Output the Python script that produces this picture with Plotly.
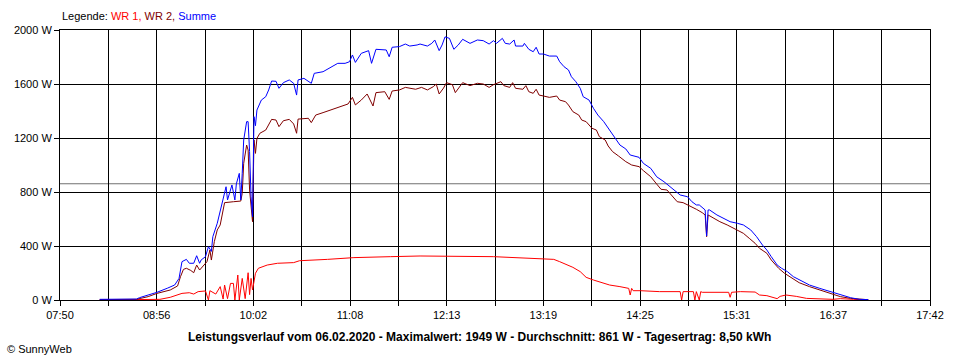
import plotly.graph_objects as go

# ---------------- data ----------------
x_tick_labels = ["07:50", "", "08:56", "", "10:02", "", "11:08", "", "12:13", "",
                 "13:19", "", "14:25", "", "15:31", "", "16:37", "", "17:42"]
y_tick_values = [0, 400, 800, 1200, 1600, 2000]
y_tick_labels = ["0 W", "400 W", "800 W", "1200 W", "1600 W", "2000 W"]

avg_w = 861

summe_time = ["08:17","08:42","08:44","08:50","08:56","09:03","09:08","09:11","09:13","09:16",
              "09:18","09:21","09:23","09:25","09:26","09:29","09:31","09:33","09:34","09:37",
              "09:39","09:41","09:43","09:44","09:47","09:49","09:50","09:52","09:53","09:54",
              "09:55","09:57","09:58","09:59","10:00","10:01","10:02","10:03","10:04","10:07",
              "10:10","10:12","10:14","10:17","10:19","10:22","10:26","10:29","10:31","10:32",
              "10:36","10:41","10:43","10:49","10:54","10:59","11:04","11:07","11:09","11:11",
              "11:15","11:20","11:22","11:25","11:32","11:34","11:36","11:41","11:45","11:48",
              "11:53","11:55","12:00","12:03","12:05","12:08","12:10","12:12","12:15","12:18",
              "12:21","12:24","12:29","12:34","12:38","12:42","12:45","12:47","12:51","12:53",
              "12:56","12:59","13:00","13:05","13:06","13:09","13:12","13:14","13:16","13:19",
              "13:23","13:28","13:30","13:33","13:36","13:38","13:41","13:44","13:46","13:50",
              "13:53","13:56","14:00","14:03","14:07","14:11","14:15","14:18","14:24","14:27",
              "14:32","14:36","14:41","14:45","14:50","14:52","14:57","15:00","15:03","15:05",
              "15:09","15:10","15:11","15:12","15:17","15:21","15:26","15:31","15:35","15:40",
              "15:44","15:48","15:51","15:54","15:58","16:01","16:05","16:09","16:14","16:20",
              "16:27","16:34","16:41","16:48","16:54","17:00"]
summe_w = [5, 7, 17, 37, 57, 87, 111, 160, 284, 301,
           272, 272, 328, 272, 296, 321, 395, 360, 469, 568,
           654, 741, 839, 741, 852, 741, 860, 938, 741, 938,
           1185, 1321, 1321, 1100, 765, 617, 1358, 1291, 1407, 1481,
           1506, 1556, 1622, 1620, 1568, 1610, 1630, 1605, 1518, 1630,
           1642, 1605, 1679, 1691, 1723, 1753, 1753, 1765, 1815, 1760,
           1827, 1847, 1753, 1857, 1852, 1802, 1872, 1877, 1896, 1881,
           1889, 1896, 1881, 1901, 1926, 1847, 1889, 1949, 1938, 1857,
           1889, 1931, 1901, 1926, 1921, 1896, 1921, 1901, 1938, 1901,
           1896, 1926, 1881, 1881, 1901, 1857, 1839, 1872, 1822, 1822,
           1807, 1807, 1765, 1728, 1704, 1654, 1617, 1568, 1506, 1481,
           1420, 1370, 1321, 1272, 1205, 1148, 1119, 1074, 1057, 1012,
           975, 913, 876, 839, 790, 778, 765, 728, 704, 704,
           667, 474, 667, 667, 630, 605, 580, 568, 556, 519,
           469, 407, 370, 321, 259, 235, 210, 173, 143, 111,
           86, 62, 37, 17, 5, 3]

wr2_time = ["08:17","08:42","08:50","08:56","09:05","09:10","09:12","09:14","09:16","09:19",
            "09:21","09:23","09:25","09:28","09:30","09:32","09:33","09:35","09:37","09:39",
            "09:41","09:42","09:48","09:53","09:54","09:55","09:57","09:58","09:59","10:01",
            "10:02","10:03","10:04","10:06","10:10","10:12","10:14","10:17","10:19","10:22",
            "10:26","10:29","10:31","10:32","10:36","10:39","10:41","10:44","10:49","10:55",
            "11:01","11:06","11:09","11:11","11:15","11:19","11:23","11:25","11:31","11:34",
            "11:36","11:41","11:45","11:52","11:56","12:00","12:04","12:06","12:08","12:11",
            "12:13","12:17","12:19","12:22","12:24","12:29","12:34","12:38","12:42","12:45",
            "12:50","12:52","12:56","12:58","13:00","13:05","13:07","13:09","13:12","13:14",
            "13:16","13:19","13:23","13:28","13:30","13:34","13:36","13:39","13:43","13:45",
            "13:48","13:52","13:55","13:57","14:01","14:03","14:06","14:10","14:15","14:19",
            "14:24","14:27","14:32","14:36","14:39","14:43","14:47","14:50","14:54","14:59",
            "15:03","15:07","15:09","15:10","15:11","15:15","15:19","15:24","15:30","15:35",
            "15:39","15:43","15:46","15:51","15:54","15:59","16:03","16:08","16:13","16:20",
            "16:27","16:34","16:41","16:48","16:54","17:00"]
wr2_w = [3, 5, 25, 49, 74, 104, 173, 227, 235, 219,
         202, 259, 222, 259, 284, 370, 296, 432, 519, 556,
         667, 721, 728, 733, 790, 1012, 1148, 1111, 815, 580,
         1185, 1086, 1197, 1235, 1259, 1296, 1338, 1333, 1284, 1328,
         1338, 1304, 1235, 1340, 1346, 1346, 1314, 1370, 1388, 1412,
         1437, 1452, 1501, 1445, 1481, 1526, 1437, 1536, 1543, 1486,
         1548, 1556, 1575, 1561, 1575, 1556, 1580, 1600, 1526, 1570,
         1610, 1595, 1536, 1580, 1610, 1588, 1605, 1600, 1575, 1595,
         1617, 1588, 1575, 1610, 1568, 1561, 1588, 1543, 1531, 1561,
         1518, 1511, 1501, 1511, 1481, 1469, 1444, 1395, 1370, 1333,
         1321, 1272, 1259, 1210, 1185, 1141, 1099, 1067, 1025, 1000,
         988, 958, 913, 859, 820, 815, 765, 728, 721, 696,
         672, 647, 630, 469, 630, 605, 580, 556, 519, 494,
         457, 420, 383, 346, 296, 235, 198, 160, 128, 99,
         74, 49, 25, 12, 5, 2]

wr1_time = ["08:17","08:40","08:58","09:05","09:13","09:18","09:21","09:24","09:29","09:31",
            "09:32","09:36","09:39","09:41","09:42","09:44","09:46","09:48","09:49","09:51",
            "09:52","09:54","09:56","09:58","09:59","10:00","10:01","10:03","10:05","10:11",
            "10:18","10:29","10:33","10:52","11:10","11:35","11:55","12:45","13:08","13:18",
            "13:26","13:30","13:35","13:39","13:44","13:48","13:53","13:59","14:04","14:11",
            "14:17","14:18","14:19","14:20","14:25","14:38","14:52","14:53","14:54","15:01",
            "15:02","15:03","15:05","15:06","15:07","15:25","15:26","15:27","15:33","15:43",
            "15:46","15:51","15:58","16:00","16:04","16:11","16:18","16:36","16:41","16:50",
            "17:00"]
wr1_w = [0, 3, 5, 20, 49, 54, 44, 62, 67, 0,
         69, 44, 99, 7, 111, 10, 123, 123, 0, 185,
         0, 160, 10, 202, 40, 160, 74, 198, 235, 259,
         272, 277, 291, 301, 314, 321, 326, 321, 309, 301,
         301, 284, 259, 242, 210, 168, 148, 128, 111, 99,
         86, 37, 86, 69, 69, 62, 62, 0, 62, 62,
         0, 62, 0, 62, 57, 57, 20, 57, 62, 59,
         37, 32, 10, 27, 37, 27, 12, 5, 10, 5,
         0]

title_text = ("Leistungsverlauf vom 06.02.2020 - Maximalwert: 1949 W - "
              "Durchschnitt: 861 W - Tagesertrag: 8,50 kWh")


def to_min(s):
    h, m = s.split(":")
    return int(h) * 60 + int(m)


x_start = to_min(x_tick_labels[0])
x_end = to_min(x_tick_labels[-1])
n_ticks = len(x_tick_labels)
x_tick_vals = [x_start + i * (x_end - x_start) / (n_ticks - 1) for i in range(n_ticks)]

FONT = "Liberation Sans, Arial, sans-serif"

fig = go.Figure()
for name, tt, vv, col in [("WR 1", wr1_time, wr1_w, "#FF0000"),
                          ("WR 2", wr2_time, wr2_w, "#800000"),
                          ("Summe", summe_time, summe_w, "#0000FF")]:
    fig.add_trace(go.Scatter(x=[to_min(t) for t in tt], y=vv, mode="lines", name=name,
                             line=dict(color=col, width=1), hoverinfo="skip"))

fig.add_shape(type="line", xref="paper", x0=0, x1=1, yref="y", y0=avg_w, y1=avg_w,
              line=dict(color="#707070", width=1), layer="between")

fig.update_xaxes(range=[x_start, x_end], tickmode="array", tickvals=x_tick_vals,
                 ticktext=x_tick_labels, showgrid=True, gridcolor="black", gridwidth=1,
                 showline=True, linecolor="black", linewidth=1, mirror=True,
                 ticks="outside", ticklen=5, tickcolor="black", zeroline=False,
                 tickfont=dict(family=FONT, size=11, color="black"), fixedrange=True)
fig.update_yaxes(range=[0, 2000], tickmode="array", tickvals=y_tick_values,
                 ticktext=y_tick_labels, showgrid=True, gridcolor="black", gridwidth=1,
                 showline=True, linecolor="black", linewidth=1, mirror=True,
                 ticks="outside", ticklen=5, tickcolor="black", zeroline=False,
                 tickfont=dict(family=FONT, size=11, color="black"), fixedrange=True)

legend_html = ("Legende: <span style='color:#FF0000'>WR 1,</span> "
               "<span style='color:#800000'>WR 2,</span> "
               "<span style='color:#0000FF'>Summe</span>")
fig.add_annotation(text=legend_html, xref="paper", yref="paper", x=0, y=1 + 14 / 270,
                   xanchor="left", yanchor="middle", showarrow=False,
                   font=dict(family=FONT, size=11, color="black"))
fig.add_annotation(text="<b>" + title_text + "</b>", xref="paper", yref="paper",
                   x=(479 - 60) / 870, y=-37 / 270, xanchor="center", yanchor="middle",
                   showarrow=False, font=dict(family=FONT, size=12, color="black"))
fig.add_annotation(text="© SunnyWeb", xref="paper", yref="paper", x=-55 / 870, y=-49 / 270,
                   xanchor="left", yanchor="middle", showarrow=False,
                   font=dict(family=FONT, size=11, color="black"))

fig.update_layout(width=960, height=360, margin=dict(l=60, r=30, t=30, b=60),
                  paper_bgcolor="white", plot_bgcolor="white", showlegend=False,
                  font=dict(family=FONT, size=11, color="black"))

fig.write_html("out.html", config={"displayModeBar": False},
               post_script="document.body.style.margin='0';document.body.style.overflow='hidden';")
